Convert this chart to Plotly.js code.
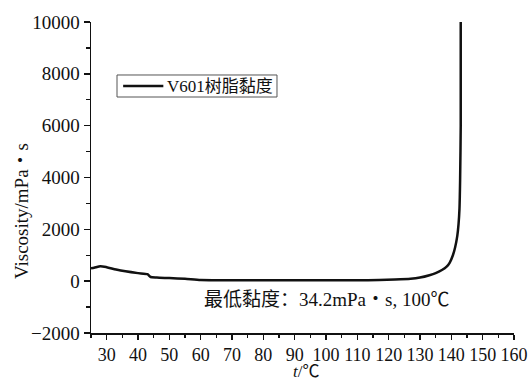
<!DOCTYPE html>
<html>
<head>
<meta charset="utf-8">
<script src="https://cdn.plot.ly/plotly-3.0.1.min.js"></script>
<style>html,body{margin:0;padding:0;background:#fff;}#chart{width:532px;height:382px;}</style>
</head>
<body>
<div id="chart"></div>
<script>
const seriesName = "V601树脂黏度";
const temperature = [25, 26, 28, 30, 33, 36, 40, 43, 44, 46, 50, 55, 60, 70, 80, 90, 100, 110, 117, 122, 127, 130, 133, 135, 137, 138.5, 139.5, 140.5, 141.2, 141.9, 142.3, 142.6, 142.8, 143, 143];
const viscosity = [500, 520, 580, 540, 450, 380, 310, 270, 160, 140, 120, 90, 45, 38, 36, 35, 34.2, 36, 45, 60, 90, 140, 230, 310, 430, 560, 720, 1000, 1300, 1750, 2200, 2800, 3900, 6000, 10000];
const xTicks = [30, 40, 50, 60, 70, 80, 90, 100, 110, 120, 130, 140, 150, 160];
const yTicks = [-2000, 0, 2000, 4000, 6000, 8000, 10000];
const annotationText = "最低黏度：34.2mPa・s, 100℃";
const xTitle = "<i>t</i>/℃";
const yTitle = "Viscosity/mPa・s";

const FONT = 'Liberation Serif, Noto Sans CJK SC';
const INK = '#111';

const trace = {
  x: temperature, y: viscosity, type: 'scatter', mode: 'lines',
  name: seriesName, showlegend: false,
  line: {color: INK, width: 2.5, shape: 'spline', smoothing: 0.6}
};

const layout = {
  width: 532, height: 382,
  margin: {l: 91, r: 18, t: 22, b: 49},
  paper_bgcolor: '#fff', plot_bgcolor: '#fff',
  font: {family: FONT, size: 19, color: INK},
  showlegend: false,
  xaxis: {
    range: [25, 160], tickvals: xTicks, ticktext: xTicks.map(String),
    showgrid: false, zeroline: false, showline: true, linecolor: INK, linewidth: 1.5,
    ticks: 'outside', ticklen: 5, tickwidth: 1.5, tickcolor: INK,
    minor: {dtick: 5, tick0: 25, ticks: 'outside', ticklen: 3.5, tickwidth: 1.2, tickcolor: INK, showgrid: false},
    tickfont: {family: FONT, size: 18, color: INK},
    automargin: false, mirror: false
  },
  yaxis: {
    range: [-2000, 10000], tickvals: yTicks, ticktext: yTicks.map(v => v < 0 ? '\u2212' + Math.abs(v) : String(v)),
    showgrid: false, zeroline: false, showline: true, linecolor: INK, linewidth: 1.5,
    ticks: 'outside', ticklen: 6, tickwidth: 1.5, tickcolor: INK,
    minor: {dtick: 1000, ticks: 'outside', ticklen: 4, tickwidth: 1.2, tickcolor: INK, showgrid: false},
    tickfont: {family: FONT, size: 19, color: INK},
    automargin: false, mirror: false
  },
  shapes: [
    {type: 'rect', xref: 'paper', yref: 'paper', x0: 0.0615, x1: 0.4397, y0: 0.7588, y1: 0.8296,
     line: {color: '#555', width: 1}, fillcolor: '#fff', layer: 'above'},
    {type: 'line', xref: 'paper', yref: 'paper', x0: 0.076, x1: 0.171, y0: 0.7942, y1: 0.7942,
     line: {color: INK, width: 2.5}, layer: 'above'}
  ],
  annotations: [
    {text: seriesName, xref: 'paper', yref: 'paper', x: 0.1755, y: 0.7942, showarrow: false,
     xanchor: 'left', yanchor: 'middle', font: {family: FONT, size: 17, color: INK}},
    {text: annotationText, xref: 'x', yref: 'y', x: 100, y: -700, showarrow: false,
     xanchor: 'center', yanchor: 'middle', font: {family: FONT, size: 19, color: INK}},
    {text: yTitle, xref: 'paper', yref: 'paper', x: -0.1655, y: 0.392, showarrow: false,
     textangle: -90, xanchor: 'center', yanchor: 'middle', font: {family: FONT, size: 19, color: INK}},
    {text: xTitle, xref: 'paper', yref: 'paper', x: 0.508, y: -0.1222, showarrow: false,
     xanchor: 'center', yanchor: 'middle', borderpad: 0, font: {family: FONT, size: 17, color: INK}}
  ]
};

Plotly.newPlot('chart', [trace], layout, {staticPlot: true, displayModeBar: false});
</script>
</body>
</html>
